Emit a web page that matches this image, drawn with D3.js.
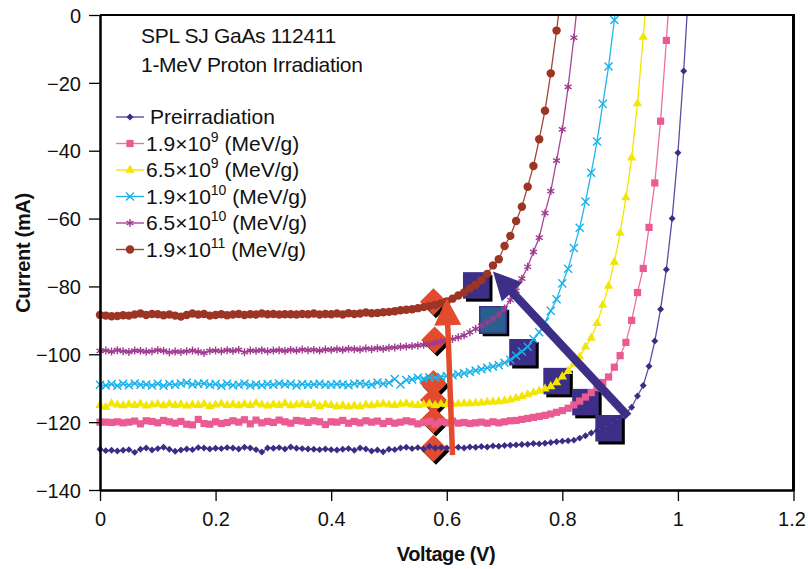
<!DOCTYPE html>
<html>
<head>
<meta charset="utf-8">
<script src="https://cdn.jsdelivr.net/npm/d3@7"></script>
<style>
body { margin: 0; background: #fff; }
text { font-family: 'Liberation Sans', Arial, sans-serif; fill: #111; }
</style>
</head>
<body>
<div id="chart_area"></div>
<script>
// x values shared by all curves (V)
var voltage = [0,0.01,0.02,0.03,0.04,0.05,0.06,0.07,0.08,0.09,
  0.10,0.11,0.12,0.13,0.14,0.15,0.16,0.17,0.18,0.19,
  0.20,0.21,0.22,0.23,0.24,0.25,0.26,0.27,0.28,0.29,
  0.30,0.31,0.32,0.33,0.34,0.35,0.36,0.37,0.38,0.39,
  0.40,0.41,0.42,0.43,0.44,0.45,0.46,0.47,0.48,0.49,
  0.50,0.51,0.52,0.53,0.54,0.55,0.56,0.57,0.58,0.59,
  0.60,0.61,0.62,0.63,0.64,0.65,0.66,0.67,0.68,0.69,
  0.70,0.71,0.72,0.73,0.74,0.75,0.76,0.77,0.78,0.79,
  0.80,0.81,0.82,0.83,0.84,0.85,0.86,0.87,0.88,0.89,
  0.90,0.91,0.92,0.93,0.94,0.95,0.96,0.97,0.98,0.99,
  1.00,1.01,1.02];

// currents (mA), one per voltage step
var currentPre = [-128.0,-128.4,-128.3,-128.5,-128.3,-128.1,-128.9,-128.0,-127.6,-128.2,
  -127.8,-127.4,-128.0,-128.6,-128.2,-127.9,-128.1,-127.5,-127.6,-127.9,
  -127.7,-127.8,-127.5,-127.6,-127.9,-127.4,-127.6,-128.1,-128.8,-127.6,
  -127.7,-127.5,-127.9,-127.3,-127.7,-127.8,-127.9,-128.0,-128.1,-127.9,
  -128.1,-128.2,-128.0,-127.8,-128.3,-127.6,-127.9,-128.5,-128.2,-128.7,
  -128.0,-128.1,-127.6,-127.4,-127.8,-127.5,-127.9,-127.2,-127.6,-127.5,
  -127.6,-127.5,-127.4,-127.6,-127.3,-127.4,-127.2,-127.3,-127.0,-127.1,
  -126.9,-126.8,-126.7,-126.6,-126.5,-126.3,-126.4,-126.2,-126.0,-125.8,
  -125.6,-125.5,-125.3,-124.7,-124.0,-123.2,-122.5,-121.7,-120.8,-119.8,
  -118.7,-117.3,-115.6,-112.3,-109.2,-103.5,-96.1,-86.7,-75.0,-60.0,
  -40.6,-16.5,12.0];

var current19e9 = [-120.0,-120.0,-120.1,-119.9,-120.2,-120.0,-119.7,-120.5,-119.6,-119.8,
  -120.2,-119.5,-119.9,-120.3,-119.8,-120.6,-120.8,-119.2,-120.4,-120.6,
  -119.9,-120.4,-120.1,-119.6,-120.0,-119.3,-120.5,-119.4,-120.2,-119.8,
  -120.1,-119.4,-119.9,-120.3,-119.5,-119.7,-120.1,-119.6,-119.9,-120.7,
  -119.9,-120.0,-119.5,-120.3,-119.8,-120.2,-119.6,-120.0,-119.7,-120.4,
  -119.8,-120.3,-120.0,-119.6,-119.9,-120.5,-120.1,-119.8,-120.6,-119.9,
  -120.2,-119.7,-120.3,-120.1,-120.4,-120.2,-120.0,-120.3,-119.9,-120.2,
  -119.9,-119.6,-119.5,-119.2,-118.9,-118.6,-118.3,-118.0,-117.6,-117.1,
  -116.6,-115.9,-114.9,-113.8,-112.6,-111.3,-109.8,-108.3,-106.7,-103.8,
  -100.4,-96.5,-90.0,-81.8,-74.7,-62.6,-49.5,-31.3,-7.5,18.0];

var current65e9 = [-115.0,-115.6,-114.5,-114.9,-115.1,-114.8,-115.0,-114.6,-115.2,-114.9,
  -114.7,-115.1,-114.6,-115.0,-114.8,-115.2,-114.9,-115.0,-114.7,-115.3,
  -114.9,-114.6,-115.0,-114.8,-115.1,-114.7,-115.0,-114.4,-114.9,-115.2,
  -114.8,-115.0,-114.5,-115.1,-114.9,-114.7,-115.0,-114.6,-115.3,-114.8,
  -115.0,-115.4,-115.1,-115.5,-115.2,-115.4,-114.9,-115.1,-114.8,-114.6,
  -114.9,-115.0,-114.7,-114.5,-114.9,-115.0,-114.8,-114.6,-115.0,-114.7,
  -114.8,-114.7,-114.6,-114.5,-114.5,-114.4,-114.3,-114.1,-114.0,-113.9,
  -113.7,-113.4,-112.9,-112.4,-111.9,-111.3,-110.8,-110.2,-109.5,-108.3,
  -106.6,-105.0,-102.9,-100.7,-97.8,-95.2,-90.9,-85.5,-79.9,-72.8,
  -64.3,-53.8,-42.1,-26.1,-6.5,15.0];

var current19e10 = [-109.0,-109.2,-108.8,-109.3,-108.7,-109.1,-108.6,-109.0,-108.9,-109.2,
  -108.7,-109.3,-108.8,-109.0,-108.6,-108.4,-108.9,-108.7,-108.6,-109.0,
  -108.8,-109.3,-108.7,-109.1,-109.0,-108.6,-109.2,-108.9,-109.1,-108.8,
  -109.0,-108.6,-108.9,-108.7,-109.2,-108.8,-109.0,-108.9,-108.7,-109.0,
  -109.0,-108.8,-108.9,-109.1,-108.7,-108.6,-108.8,-109.0,-108.3,-108.7,
  -108.4,-107.3,-108.9,-107.6,-107.4,-106.9,-107.2,-106.8,-106.9,-106.6,
  -106.4,-106.2,-105.9,-105.6,-105.2,-104.8,-104.4,-104.0,-103.6,-103.2,
  -102.5,-101.6,-100.4,-99.2,-97.8,-95.5,-93.5,-90.5,-87.2,-83.8,
  -79.1,-74.8,-68.7,-62.7,-55.0,-46.5,-37.3,-26.2,-15.2,-1.5,
  14.0];

var current65e10 = [-99.0,-98.9,-99.2,-98.8,-99.1,-99.3,-98.9,-99.0,-99.2,-99.1,
  -98.8,-99.0,-99.4,-99.2,-99.3,-99.1,-98.9,-99.2,-99.6,-99.0,
  -98.9,-99.1,-98.8,-99.0,-98.7,-99.4,-98.9,-99.0,-98.8,-99.1,
  -98.9,-98.8,-99.0,-98.7,-98.9,-98.6,-98.8,-98.7,-98.9,-98.6,
  -98.7,-98.5,-98.7,-98.4,-98.5,-98.6,-98.3,-98.5,-98.2,-98.4,
  -98.1,-98.0,-97.8,-97.7,-97.6,-97.4,-97.2,-97.0,-96.7,-96.3,
  -96.0,-95.5,-95.0,-94.4,-93.5,-92.5,-91.6,-90.6,-89.5,-88.3,
  -86.5,-84.0,-81.3,-77.7,-74.2,-69.8,-65.6,-58.4,-51.9,-42.9,
  -33.7,-21.2,-6.7,10.0];

var current19e11 = [-88.4,-88.6,-88.8,-88.7,-88.5,-88.6,-88.3,-88.0,-88.4,-88.1,
  -88.2,-88.5,-88.3,-88.6,-88.9,-88.4,-88.0,-88.3,-88.1,-88.6,
  -88.4,-88.2,-88.5,-88.3,-88.1,-88.4,-88.2,-88.3,-88.0,-88.2,
  -88.1,-88.3,-88.2,-88.2,-88.3,-88.1,-88.2,-88.0,-88.3,-88.1,
  -88.2,-88.0,-88.3,-87.9,-88.1,-88.0,-87.7,-87.9,-87.8,-87.6,
  -87.5,-87.3,-87.0,-86.9,-86.7,-86.4,-86.1,-85.8,-85.5,-85.0,
  -84.4,-83.6,-82.7,-81.8,-80.6,-79.5,-78.2,-76.3,-73.8,-72.0,
  -68.1,-65.1,-60.7,-56.5,-50.6,-44.5,-36.6,-28.2,-17.2,-4.6,
  9.0];

var seriesBase = ["Preirradiation", "1.9\u00d710", "6.5\u00d710", "1.9\u00d710", "6.5\u00d710", "1.9\u00d710"];
var seriesExp = ["", "9", "9", "10", "10", "11"];
var seriesUnit = ["", " (MeV/g)", " (MeV/g)", " (MeV/g)", " (MeV/g)", " (MeV/g)"];

var xTicks = [0, 0.2, 0.4, 0.6, 0.8, 1, 1.2];
var yTicks = [0, -20, -40, -60, -80, -100, -120, -140];

// annotation points (V, mA)
var diamondPoints = [[0.577, -84.5], [0.579, -95.8], [0.577, -108.6], [0.577, -113.5], [0.577, -119.4], [0.577, -127.7]];
var squarePoints = [[0.651, -79.7], [0.680, -89.9], [0.731, -99.4], [0.790, -107.9], [0.840, -114.1], [0.880, -121.8]];
var orangeArrow = [[0.610, -129.7], [0.600, -83.5]];
var navyArrow = [[0.914, -118.4], [0.680, -75.6]];

var width = 808, height = 569;
var x = d3.scaleLinear().domain([0, 1.2]).range([100, 793.5]);
var y = d3.scaleLinear().domain([-140, 0]).range([490, 15]);

var svg = d3.select("#chart_area").append("svg")
    .attr("width", width)
    .attr("height", height);

svg.append("defs").append("clipPath").attr("id", "plotclip")
  .append("rect")
    .attr("x", 80).attr("y", 15)
    .attr("width", 720).attr("height", 490);

var series = [
  { values: currentPre,   line: "#5a4ea3", color: "#3b2c86", symbol: d3.symbolSquare,  size: 24, rot: 45, stroke: false },
  { values: current19e9,  line: "#ef6fa0", color: "#ea5a93", symbol: d3.symbolSquare,  size: 52, rot: 0, stroke: false },
  { values: current65e9,  line: "#f2e600", color: "#f3e600", symbol: d3.symbolTriangle, size: 38, rot: 0, stroke: false },
  { values: current19e10, line: "#25b5ea", color: "#18b2ea", symbol: d3.symbolTimes,   size: 44, rot: 0, stroke: true },
  { values: current65e10, line: "#a8469a", color: "#9e3b8f", symbol: d3.symbolAsterisk, size: 44, rot: 0, stroke: true },
  { values: current19e11, line: "#a4473a", color: "#9c3524", symbol: d3.symbolCircle,  size: 56, rot: 0, stroke: false }
];

// annotation squares and diamonds (under the curves)
var annot = svg.append("g");
var sq = 26.5;
annot.selectAll(".sqshadow").data(squarePoints).enter().append("rect")
    .attr("x", function (d) { return x(d[0]) - sq / 2 + 3; })
    .attr("y", function (d) { return y(d[1]) - sq / 2 + 3; })
    .attr("width", sq).attr("height", sq)
    .attr("fill", "#000");
annot.selectAll(".sq").data(squarePoints).enter().append("rect")
    .attr("x", function (d) { return x(d[0]) - sq / 2; })
    .attr("y", function (d) { return y(d[1]) - sq / 2; })
    .attr("width", sq).attr("height", sq)
    .attr("fill", function (d, i) { return i === 1 ? "#285f8c" : "#3d2f87"; })
    .attr("stroke", function (d, i) { return i === 1 ? "#3d2f87" : "none"; })
    .attr("stroke-width", 1.5);

var bigDiamond = d3.symbol().type(d3.symbolSquare).size(19 * 19);
annot.selectAll(".dshadow").data(diamondPoints).enter().append("path")
    .attr("d", bigDiamond)
    .attr("transform", function (d) { return "translate(" + (x(d[0]) + 2.5) + "," + (y(d[1]) + 3) + ") rotate(45)"; })
    .attr("fill", "#000");
annot.selectAll(".diam").data(diamondPoints).enter().append("path")
    .attr("d", bigDiamond)
    .attr("transform", function (d) { return "translate(" + x(d[0]) + "," + y(d[1]) + ") rotate(45)"; })
    .attr("fill", "#e24b2b");

function drawArrow(pts, color, shaft, headLen, headW) {
  var x0 = x(pts[0][0]), y0 = y(pts[0][1]), x1 = x(pts[1][0]), y1 = y(pts[1][1]);
  var dx = x1 - x0, dy = y1 - y0, len = Math.sqrt(dx * dx + dy * dy);
  var ux = dx / len, uy = dy / len;
  var bx = x1 - ux * headLen, by = y1 - uy * headLen;
  svg.append("line")
      .attr("x1", x0).attr("y1", y0).attr("x2", bx + ux * 2).attr("y2", by + uy * 2)
      .attr("stroke", color).attr("stroke-width", shaft);
  svg.append("path")
      .attr("d", "M" + x1 + "," + y1 +
        "L" + (bx - uy * headW / 2) + "," + (by + ux * headW / 2) +
        "L" + (bx + uy * headW / 2) + "," + (by - ux * headW / 2) + "Z")
      .attr("fill", color);
}

// curves
var plot = svg.append("g").attr("clip-path", "url(#plotclip)");
var line = d3.line()
    .x(function (d, i) { return x(voltage[i]); })
    .y(function (d) { return y(d); });

series.forEach(function (s) {
  plot.append("path")
      .datum(s.values)
      .attr("fill", "none")
      .attr("stroke", s.line)
      .attr("stroke-width", 1.3)
      .attr("d", line);
});

drawArrow(orangeArrow, "#e24b2b", 5.5, 27, 27);
drawArrow(navyArrow, "#3d2f87", 8.5, 28, 28);

series.forEach(function (s) {
  var sym = d3.symbol().type(s.symbol).size(s.size);
  plot.append("g").selectAll("path")
      .data(s.values)
      .enter()
      .append("path")
      .attr("transform", function (d, i) { return "translate(" + x(voltage[i]) + "," + y(d) + ") rotate(" + s.rot + ")"; })
      .attr("d", sym)
      .attr("fill", s.stroke ? "none" : s.color)
      .attr("stroke", s.stroke ? s.color : "none")
      .attr("stroke-width", 1.4);
});

// frame
svg.append("line").attr("x1", 100).attr("x2", 794).attr("y1", 15).attr("y2", 15)
    .attr("stroke", "#000").attr("stroke-width", 2);
svg.append("line").attr("x1", 793.5).attr("x2", 793.5).attr("y1", 14).attr("y2", 491)
    .attr("stroke", "#000").attr("stroke-width", 3);

// axes
var xAxis = svg.append("g")
    .attr("transform", "translate(0,490)")
    .call(d3.axisBottom(x).tickValues(xTicks).tickSize(11).tickSizeOuter(0)
      .tickFormat(function (d) { return String(+d.toFixed(1)); }));
var yAxis = svg.append("g")
    .attr("transform", "translate(100,0)")
    .call(d3.axisLeft(y).tickValues(yTicks).tickSize(11).tickSizeOuter(0)
      .tickFormat(d3.format("d")));

[xAxis, yAxis].forEach(function (a) {
  a.select(".domain").attr("stroke", "#000").attr("stroke-width", 2.5);
  a.selectAll(".tick line").attr("stroke", "#000").attr("stroke-width", 1.3);
  a.selectAll(".tick text").attr("font-size", 20).attr("fill", "#111")
    .style("font-family", "'Liberation Sans', Arial, sans-serif");
});
xAxis.selectAll(".tick text").attr("dy", "1.1em");
xAxis.selectAll(".tick:last-of-type text").attr("dx", -2);
yAxis.selectAll(".tick text").attr("x", -19).attr("dy", "0.36em");

svg.append("text")
    .attr("x", 446).attr("y", 561)
    .attr("text-anchor", "middle")
    .attr("font-size", 20).attr("font-weight", "bold")
    .attr("letter-spacing", -0.4)
    .text("Voltage (V)");
svg.append("text")
    .attr("transform", "translate(30,253) rotate(-90)")
    .attr("text-anchor", "middle")
    .attr("font-size", 20).attr("font-weight", "bold")
    .attr("letter-spacing", -0.3)
    .text("Current (mA)");

// title
svg.append("text").attr("x", 141).attr("y", 43)
    .attr("font-size", 21).attr("letter-spacing", -0.3)
    .text("SPL SJ GaAs 112411");
svg.append("text").attr("x", 141).attr("y", 72)
    .attr("font-size", 21).attr("letter-spacing", -0.3)
    .text("1-MeV Proton Irradiation");

// legend
var legend = svg.append("g");
series.forEach(function (s, i) {
  var ly = 117 + i * 26.5;
  var sym = d3.symbol().type(s.symbol).size(s.size);
  legend.append("line")
      .attr("x1", 116).attr("x2", 144).attr("y1", ly).attr("y2", ly)
      .attr("stroke", s.line).attr("stroke-width", 1.4);
  legend.append("path")
      .attr("transform", "translate(130," + ly + ") rotate(" + s.rot + ")")
      .attr("d", sym)
      .attr("fill", s.stroke ? "none" : s.color)
      .attr("stroke", s.stroke ? s.color : "none")
      .attr("stroke-width", 1.4);
  var t = legend.append("text")
      .attr("x", i === 0 ? 150 : 146).attr("y", ly + 7)
      .attr("font-size", 21);
  t.append("tspan").text(seriesBase[i]);
  if (seriesExp[i]) {
    t.append("tspan").attr("dy", -9).attr("font-size", 14).text(seriesExp[i]);
    t.append("tspan").attr("dy", 9).text(seriesUnit[i]);
  }
});
</script>
</body>
</html>
